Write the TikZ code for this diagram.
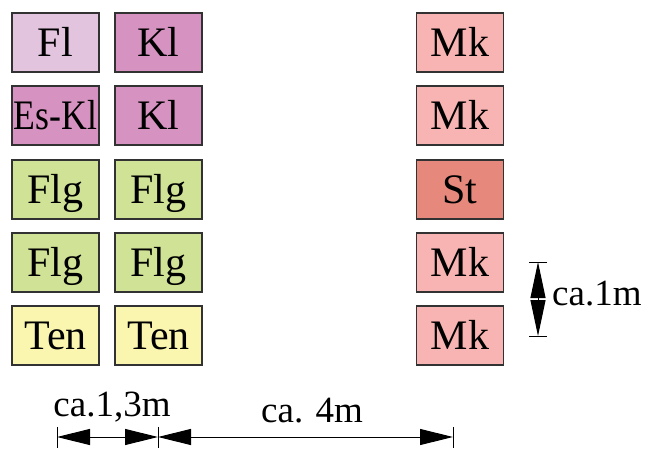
\documentclass[tikz,border=0pt]{standalone}
\usepackage{fontspec}
\usepackage{graphicx}
\setmainfont{Liberation Serif}
\usetikzlibrary{arrows.meta}
\definecolor{cFl}{RGB}{226,196,222}
\definecolor{cKl}{RGB}{214,146,192}
\definecolor{cFlg}{RGB}{208,226,150}
\definecolor{cTen}{RGB}{250,246,176}
\definecolor{cMk}{RGB}{248,180,178}
\definecolor{cSt}{RGB}{230,136,124}
\definecolor{cBorder}{RGB}{50,50,50}
\tikzset{
  box/.style={draw=cBorder, line width=1.2pt, minimum width=87pt, minimum height=59pt,
    inner sep=0pt, text height=28pt, text depth=0pt, font=\fontsize{42}{42}\selectfont},
  dimtext/.style={font=\fontsize{37}{37}\selectfont, inner sep=0pt},
  dimline/.style={line width=1pt, {Triangle[length=33pt,width=16pt]}-{Triangle[length=33pt,width=16pt]}},
  vdimline/.style={line width=1pt, {Triangle[length=36pt,width=15pt]}-{Triangle[length=36pt,width=15pt]}},
  tick/.style={line width=1pt}
}
\begin{document}
\begin{tikzpicture}[x=1pt,y=-1pt]
\useasboundingbox (0,0) rectangle (660,449);
% column 1
\node[box, fill=cFl]  (a1) at (55.5,42.5)  {Fl};
\node[box, fill=cKl]  (a2) at (55.5,115.5) {\scalebox{0.85}[1]{Es-Kl}};
\node[box, fill=cFlg] (a3) at (55.5,189.5) {Flg};
\node[box, fill=cFlg] (a4) at (55.5,262.5) {Flg};
\node[box, fill=cTen] (a5) at (55.5,335.5) {Ten};
% column 2
\node[box, fill=cKl]  (b1) at (158.5,42.5)  {Kl};
\node[box, fill=cKl]  (b2) at (158.5,115.5) {Kl};
\node[box, fill=cFlg] (b3) at (158.5,189.5) {Flg};
\node[box, fill=cFlg] (b4) at (158.5,262.5) {Flg};
\node[box, fill=cTen] (b5) at (158.5,335.5) {Ten};
% column 3
\node[box, fill=cMk] (c1) at (460,42.5)  {Mk};
\node[box, fill=cMk] (c2) at (460,115.5) {Mk};
\node[box, fill=cSt] (c3) at (460,189.5) {St};
\node[box, fill=cMk] (c4) at (460,262.5) {Mk};
\node[box, fill=cMk] (c5) at (460,335.5) {Mk};
% vertical dimension
\coordinate (vt) at (538,262);
\coordinate (vb) at (538,336);
\draw[tick] (529,262) -- (547,262);
\draw[tick] (529,336) -- (547,336);
\draw[vdimline] (vt) -- (vb);
\node[dimtext, anchor=base west] (vtxt) at (552,305) {ca.1m};
% horizontal dimensions
\coordinate (h1) at (57,437);
\coordinate (h2) at (158,437);
\coordinate (h3) at (453,437);
\draw[tick] (57,427) -- (57,448);
\draw[tick] (158,427) -- (158,448);
\draw[tick] (453,427) -- (453,448);
\draw[dimline] (h1) -- (h2);
\draw[dimline] (h2) -- (h3);
\node[dimtext, anchor=base] (htxt1) at (112,416) {ca.1,3m};
\node[dimtext, anchor=base] (htxt2) at (312,422) {ca. 4m};
\end{tikzpicture}
\end{document}
